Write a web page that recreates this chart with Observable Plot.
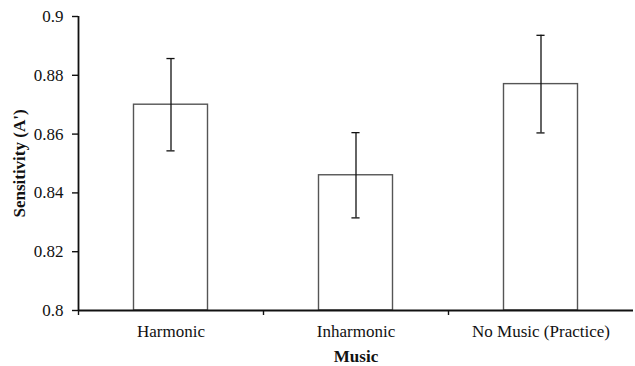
<!DOCTYPE html>
<html>
<head>
<meta charset="utf-8">
<script src="https://cdn.jsdelivr.net/npm/d3@7"></script>
<script src="https://cdn.jsdelivr.net/npm/@observablehq/plot@0.6"></script>
<style>
  html, body { margin: 0; padding: 0; background: #fff; }
  #chart svg { display: block; }
</style>
</head>
<body>
<div id="chart"></div>
<script>
// Mean sensitivity (A') per music condition, with error bars (± SE)
const categories = ["Harmonic", "Inharmonic", "No Music (Practice)"];
const means = [0.870, 0.846, 0.877];
const errors = [0.0157, 0.0145, 0.0166];
const yTicks = [0.8, 0.82, 0.84, 0.86, 0.88, 0.9];

const data = categories.map((c, i) => ({
  category: c,
  index: i,
  mean: means[i],
  lo: means[i] - errors[i],
  hi: means[i] + errors[i]
}));

const yMin = yTicks[0];
const yMax = yTicks[yTicks.length - 1];

// bar occupies the middle 40% of each category slot; caps are narrow
const barHalf = 0.2;
const capHalf = 0.022;

const font = "'Liberation Serif', 'Times New Roman', serif";

const chart = Plot.plot({
  width: 635,
  height: 366,
  marginLeft: 78,
  marginRight: 2,
  marginTop: 16,
  marginBottom: 56,
  style: { fontFamily: font, fontSize: "17px", color: "#111", background: "#fff" },
  x: { domain: [0, categories.length] },
  y: { domain: [yMin, yMax] },
  marks: [
    // bars
    Plot.rectY(data, {
      x1: d => d.index + 0.5 - barHalf,
      x2: d => d.index + 0.5 + barHalf,
      y1: yMin,
      y2: "mean",
      fill: "white",
      stroke: "#555",
      strokeWidth: 1.4
    }),
    // error bars
    Plot.ruleX(data, { x: d => d.index + 0.5, y1: "lo", y2: "hi", stroke: "#111", strokeWidth: 1.3 }),
    Plot.ruleY(data, { y: "hi", x1: d => d.index + 0.5 - capHalf, x2: d => d.index + 0.5 + capHalf, stroke: "#111", strokeWidth: 1.3 }),
    Plot.ruleY(data, { y: "lo", x1: d => d.index + 0.5 - capHalf, x2: d => d.index + 0.5 + capHalf, stroke: "#111", strokeWidth: 1.3 }),
    // y axis
    Plot.axisY({
      ticks: yTicks,
      tickFormat: d => String(+d.toFixed(2)),
      tickSize: 6,
      tickPadding: 9,
      label: null,
      stroke: "#111",
      strokeWidth: 1.4,
      fontSize: 17
    }),
    // category labels
    Plot.axisX({
      ticks: categories.map((c, i) => i + 0.5),
      tickFormat: v => categories[Math.floor(v)],
      tickSize: 0,
      tickPadding: 14,
      label: null,
      fontSize: 17
    }),
    // tick marks at category boundaries
    Plot.axisX({
      ticks: categories.map((c, i) => i),
      tickFormat: () => "",
      tickSize: 5,
      label: null,
      stroke: "#111",
      strokeWidth: 1.4
    }),
    // axis lines
    Plot.ruleX([0], { stroke: "#111", strokeWidth: 1.8 }),
    Plot.ruleY([yMin], { stroke: "#111", strokeWidth: 1.8 }),
    // axis titles
    Plot.text(["Sensitivity (A')"], {
      x: 0,
      y: (yMin + yMax) / 2,
      text: d => d,
      textAnchor: "middle",
      rotate: -90,
      dx: -59,
      fontWeight: "bold",
      fontSize: 17,
      fill: "#111"
    }),
    Plot.text(["Music"], {
      frameAnchor: "bottom",
      text: d => d,
      dy: 51,
      fontWeight: "bold",
      fontSize: 17,
      fill: "#111"
    })
  ]
});

document.getElementById("chart").appendChild(chart);
</script>
</body>
</html>
